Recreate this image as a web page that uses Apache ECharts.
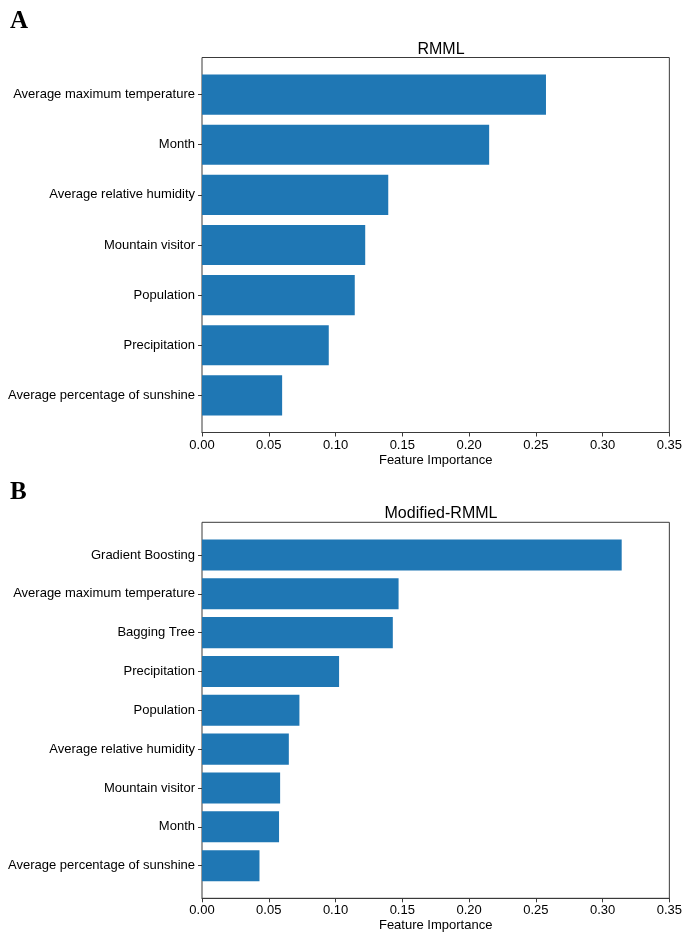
<!DOCTYPE html>
<html>
<head>
<meta charset="utf-8">
<script src="https://cdn.jsdelivr.net/npm/echarts@6/dist/echarts.min.js"></script>
<style>
  html, body { margin: 0; padding: 0; background: #fff; }
  #main { width: 685px; height: 934px; }
</style>
</head>
<body>
<div id="main"></div>
<script>
// panel A (top to bottom)
const featuresA = ['Average maximum temperature', 'Month', 'Average relative humidity',
  'Mountain visitor', 'Population', 'Precipitation', 'Average percentage of sunshine'];
const importanceA = [0.2567, 0.2143, 0.139, 0.1218, 0.114, 0.0946, 0.0598];

// panel B (top to bottom)
const featuresB = ['Gradient Boosting', 'Average maximum temperature', 'Bagging Tree',
  'Precipitation', 'Population', 'Average relative humidity', 'Mountain visitor',
  'Month', 'Average percentage of sunshine'];
const importanceB = [0.3132, 0.1467, 0.1424, 0.1023, 0.0727, 0.0648, 0.0583, 0.0575, 0.0429];

const xTicks = [0, 0.05, 0.1, 0.15, 0.2, 0.25, 0.3, 0.35];

const FONT = 'Liberation Sans, Arial, sans-serif';
const BAR = '#1f77b4';
const INK = '#3a3a3a';

// frame rects (matplotlib axes); bars sit inside with 5% data margins like barh
const frameA = { top: 57.5, height: 375 };
const frameB = { top: 522.3, height: 376 };
function inset(frame, n) {
  const span = n - 0.2;                 // -0.4 .. n-1+0.4
  const band = frame.height / (span * 1.1);
  return { top: frame.top + (0.05 * span - 0.1) * band, height: band * n };
}
const barsA = inset(frameA, featuresA.length);
const barsB = inset(frameB, featuresB.length);

const chart = echarts.init(document.getElementById('main'));

function frameX(gridIndex) {
  return {
    type: 'value', gridIndex: gridIndex,
    min: xTicks[0], max: xTicks[xTicks.length - 1], interval: xTicks[1] - xTicks[0],
    axisLine: { show: true, lineStyle: { color: INK, width: 1 } },
    axisTick: { show: true, inside: false, length: 4, lineStyle: { color: INK } },
    axisLabel: { color: '#000', fontSize: 13, fontFamily: FONT, margin: 6,
      formatter: v => v.toFixed(2) },
    splitLine: { show: false },
    name: 'Feature Importance', nameLocation: 'middle', nameGap: 21,
    nameTextStyle: { color: '#000', fontSize: 13, fontFamily: FONT }
  };
}
function hiddenX(gridIndex) {
  return { type: 'value', gridIndex: gridIndex, min: xTicks[0], max: xTicks[xTicks.length - 1], show: false };
}
function hiddenY(gridIndex) {
  return { type: 'value', gridIndex: gridIndex, min: 0, max: 1, show: false };
}
function catY(gridIndex, cats) {
  return {
    type: 'category', gridIndex: gridIndex, data: cats, inverse: true,
    axisLine: { show: false },
    axisTick: { show: true, alignWithLabel: true, length: 4, lineStyle: { color: INK } },
    axisLabel: { color: '#000', fontSize: 13, fontFamily: FONT, margin: 7 },
    splitLine: { show: false }
  };
}
const frameGrid = f => ({ left: 202, right: 14, top: f.top, height: f.height, show: true,
  borderColor: INK, borderWidth: 1, backgroundColor: 'transparent', containLabel: false });
const barGrid = f => ({ left: 202, right: 14, top: f.top, height: f.height, containLabel: false });

const option = {
  animation: false,
  backgroundColor: '#fff',
  title: [
    { text: 'A', left: 5, top: 4, textStyle: { fontFamily: 'Liberation Serif, Times New Roman, serif', fontWeight: 'bold', fontSize: 25, color: '#000' } },
    { text: 'B', left: 5, top: 475, textStyle: { fontFamily: 'Liberation Serif, Times New Roman, serif', fontWeight: 'bold', fontSize: 25, color: '#000' } },
    { text: 'RMML', left: 436, top: 37, textAlign: 'center', textStyle: { fontFamily: FONT, fontWeight: 'normal', fontSize: 16, color: '#000' } },
    { text: 'Modified-RMML', left: 436, top: 501, textAlign: 'center', textStyle: { fontFamily: FONT, fontWeight: 'normal', fontSize: 16, color: '#000' } }
  ],
  grid: [frameGrid(frameA), barGrid(barsA), frameGrid(frameB), barGrid(barsB)],
  xAxis: [frameX(0), hiddenX(1), frameX(2), hiddenX(3)],
  yAxis: [hiddenY(0), catY(1, featuresA), hiddenY(2), catY(3, featuresB)],
  series: [
    { type: 'bar', xAxisIndex: 1, yAxisIndex: 1, data: importanceA, barWidth: '80%',
      itemStyle: { color: BAR } },
    { type: 'bar', xAxisIndex: 3, yAxisIndex: 3, data: importanceB, barWidth: '80%',
      itemStyle: { color: BAR } }
  ]
};
chart.setOption(option);
</script>
</body>
</html>
